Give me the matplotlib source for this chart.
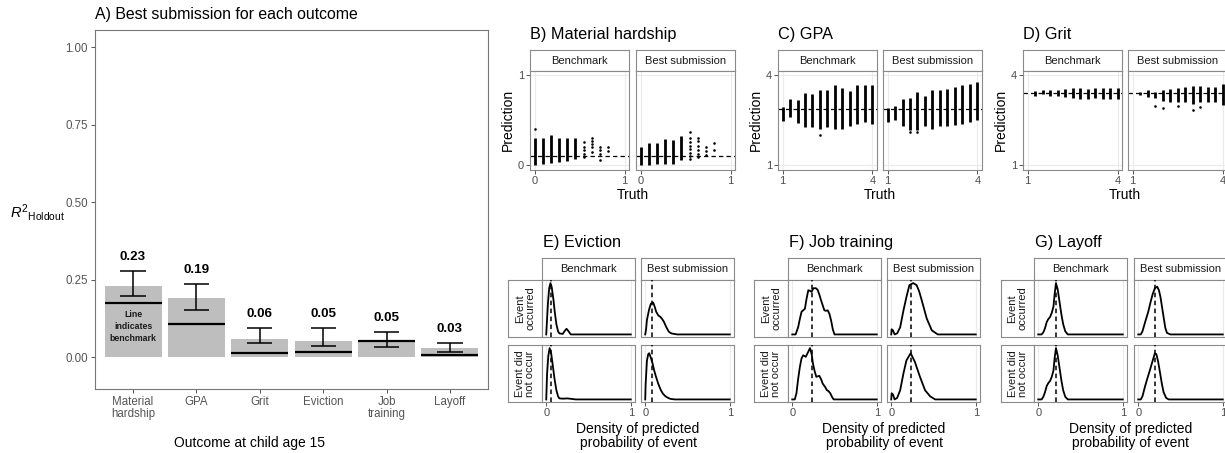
import matplotlib
matplotlib.use('Agg')
import matplotlib.pyplot as plt

plt.rcParams['font.family'] = ['Liberation Sans', 'DejaVu Sans']
plt.rcParams['mathtext.fontset'] = 'custom'
plt.rcParams['mathtext.rm'] = 'Liberation Sans'
plt.rcParams['mathtext.it'] = 'Liberation Sans:italic'

# ---------------- data: panel A ----------------
outcomes = ['Material\nhardship', 'GPA', 'Grit', 'Eviction', 'Job\ntraining', 'Layoff']
best_r2 = [0.23, 0.19, 0.057, 0.052, 0.052, 0.028]
ci_low = [0.197, 0.153, 0.046, 0.035, 0.033, 0.017]
ci_high = [0.277, 0.235, 0.095, 0.095, 0.082, 0.046]
benchmark_r2 = [0.176, 0.106, 0.014, 0.017, 0.052, 0.006]

# ---------------- data: B) Material hardship ----------------
mh_bench_truth = [0.0, 0.09, 0.18, 0.27, 0.36, 0.45]
mh_bench_lo = [0.0, 0.02, 0.03, 0.04, 0.05, 0.07]
mh_bench_hi = [0.31, 0.30, 0.34, 0.31, 0.30, 0.31]
mh_bench_pts_x = [0.0, 0.55, 0.55, 0.55, 0.55, 0.55, 0.64, 0.64, 0.64, 0.64, 0.64,
                  0.73, 0.73, 0.73, 0.73, 0.82, 0.82]
mh_bench_pts_y = [0.40, 0.09, 0.13, 0.17, 0.21, 0.26, 0.15, 0.20, 0.24, 0.27, 0.30,
                  0.06, 0.13, 0.17, 0.21, 0.16, 0.20]
mh_bench_mean = 0.104
mh_best_truth = [0.0, 0.09, 0.18, 0.27, 0.36, 0.45]
mh_best_lo = [0.0, 0.0, 0.02, 0.02, 0.02, 0.06]
mh_best_hi = [0.20, 0.25, 0.25, 0.29, 0.28, 0.33]
mh_best_pts_x = [0.55, 0.55, 0.55, 0.55, 0.55, 0.55, 0.55, 0.55, 0.64, 0.64, 0.64,
                 0.64, 0.64, 0.64, 0.73, 0.73, 0.73, 0.82, 0.82]
mh_best_pts_y = [0.07, 0.10, 0.14, 0.18, 0.22, 0.26, 0.30, 0.37, 0.09, 0.13, 0.17,
                 0.22, 0.27, 0.31, 0.12, 0.16, 0.20, 0.17, 0.25]
mh_best_mean = 0.11

# ---------------- data: C) GPA ----------------
gpa_truth = [1.0, 1.25, 1.5, 1.75, 2.0, 2.25, 2.5, 2.75, 3.0, 3.25, 3.5, 3.75, 4.0]
gpa_bench_lo = [2.48, 2.61, 2.41, 2.28, 2.28, 2.22, 2.28, 2.22, 2.22, 2.33, 2.39, 2.44, 2.39]
gpa_bench_hi = [2.94, 3.22, 3.17, 3.42, 3.39, 3.52, 3.50, 3.67, 3.59, 3.48, 3.67, 3.67, 3.67]
gpa_bench_pts_x = [2.25]
gpa_bench_pts_y = [2.0]
gpa_bench_mean = 2.89
gpa_best_lo = [2.44, 2.50, 2.30, 2.17, 2.17, 2.30, 2.22, 2.30, 2.33, 2.35, 2.39, 2.44, 2.50]
gpa_best_hi = [2.90, 2.97, 3.20, 3.25, 3.44, 3.30, 3.52, 3.50, 3.55, 3.63, 3.67, 3.72, 3.78]
gpa_best_pts_x = [1.75, 2.0]
gpa_best_pts_y = [2.12, 2.12]
gpa_best_mean = 2.89

# ---------------- data: D) Grit ----------------
grit_truth = [1.25, 1.5, 1.75, 2.0, 2.25, 2.5, 2.75, 3.0, 3.25, 3.5, 3.75, 4.0]
grit_bench_lo = [3.33, 3.37, 3.30, 3.30, 3.27, 3.25, 3.22, 3.20, 3.25, 3.20, 3.22, 3.20]
grit_bench_hi = [3.48, 3.50, 3.52, 3.50, 3.56, 3.57, 3.58, 3.56, 3.58, 3.58, 3.58, 3.58]
grit_bench_mean = 3.41
grit_best_lo = [3.35, 3.28, 3.25, 3.15, 3.13, 3.10, 3.10, 3.05, 3.10, 3.10, 3.12, 3.00]
grit_best_hi = [3.45, 3.50, 3.45, 3.50, 3.56, 3.58, 3.62, 3.65, 3.65, 3.62, 3.60, 3.72]
grit_best_pts_x = [1.75, 2.0, 2.5, 3.0, 3.25]
grit_best_pts_y = [2.97, 2.93, 2.97, 2.86, 2.95]
grit_best_mean = 3.42

# ---------------- data: E) Eviction (scaled density) ----------------
ev_bench_occ_x = [0, 0.01, 0.02, 0.035, 0.05, 0.065, 0.086, 0.10, 0.12, 0.14, 0.155, 0.195, 0.22, 0.24, 0.26, 0.29, 0.35, 1.0]
ev_bench_occ_y = [0, 0.30, 0.60, 0.90, 1.00, 0.92, 0.67, 0.45, 0.20, 0.06, 0.02, 0.01, 0.07, 0.11, 0.07, 0.0, 0.0, 0.0]
ev_bench_not_x = [0, 0.01, 0.025, 0.04, 0.06, 0.08, 0.10, 0.12, 0.14, 0.155, 0.20, 0.25, 0.30, 0.35, 1.0]
ev_bench_not_y = [0, 0.50, 0.85, 1.00, 0.88, 0.63, 0.38, 0.18, 0.06, 0.02, 0.015, 0.02, 0.01, 0.0, 0.0]
ev_best_occ_x = [0, 0.01, 0.02, 0.045, 0.067, 0.094, 0.11, 0.13, 0.155, 0.18, 0.20, 0.22, 0.25, 0.28, 0.31, 0.34, 0.38, 1.0]
ev_best_occ_y = [0, 0.10, 0.28, 0.48, 0.60, 0.62, 0.55, 0.44, 0.37, 0.34, 0.30, 0.25, 0.14, 0.05, 0.02, 0.01, 0.0, 0.0]
ev_best_not_x = [0, 0.005, 0.02, 0.035, 0.047, 0.065, 0.087, 0.105, 0.126, 0.155, 0.185, 0.21, 0.24, 0.27, 0.30, 0.35, 1.0]
ev_best_not_y = [0, 0.30, 0.75, 0.88, 0.90, 0.82, 0.70, 0.57, 0.45, 0.30, 0.18, 0.11, 0.06, 0.03, 0.01, 0.0, 0.0]
ev_mean = [0.06, 0.075]

# ---------------- data: F) Job training ----------------
jt_bench_occ_x = [0, 0.04, 0.07, 0.09, 0.11, 0.15, 0.17, 0.19, 0.21, 0.23, 0.25, 0.28, 0.30, 0.32, 0.34, 0.38, 0.40, 0.42, 0.44, 0.46, 0.48, 0.50, 1.0]
jt_bench_occ_y = [0, 0.0, 0.14, 0.30, 0.44, 0.50, 0.70, 0.86, 0.85, 0.83, 0.90, 0.90, 0.87, 0.78, 0.67, 0.47, 0.46, 0.47, 0.40, 0.27, 0.10, 0.0, 0.0]
jt_bench_not_x = [0, 0.03, 0.05, 0.07, 0.09, 0.11, 0.13, 0.16, 0.19, 0.21, 0.23, 0.245, 0.265, 0.285, 0.32, 0.34, 0.36, 0.39, 0.41, 0.43, 0.45, 0.47, 0.49, 1.0]
jt_bench_not_y = [0, 0.0, 0.12, 0.40, 0.63, 0.80, 0.86, 0.83, 0.93, 1.00, 0.88, 0.70, 0.55, 0.44, 0.46, 0.40, 0.31, 0.24, 0.18, 0.16, 0.12, 0.05, 0.0, 0.0]
jt_best_occ_x = [0, 0.005, 0.02, 0.04, 0.07, 0.106, 0.145, 0.18, 0.215, 0.26, 0.30, 0.33, 0.36, 0.42, 0.48, 0.55, 1.0]
jt_best_occ_y = [0, 0.10, 0.08, 0.0, 0.02, 0.14, 0.47, 0.73, 0.96, 1.00, 0.96, 0.84, 0.67, 0.31, 0.08, 0.0, 0.0]
jt_best_not_x = [0, 0.005, 0.02, 0.04, 0.07, 0.106, 0.145, 0.18, 0.23, 0.28, 0.34, 0.40, 0.46, 0.52, 1.0]
jt_best_not_y = [0, 0.12, 0.10, 0.0, 0.03, 0.18, 0.51, 0.76, 0.90, 0.73, 0.44, 0.18, 0.06, 0.0, 0.0]
jt_mean = [0.235, 0.235]

# ---------------- data: G) Layoff ----------------
lo_bench_occ_x = [0, 0.04, 0.06, 0.08, 0.10, 0.12, 0.14, 0.16, 0.18, 0.195, 0.21, 0.23, 0.255, 0.275, 0.295, 0.32, 0.35, 1.0]
lo_bench_occ_y = [0, 0.0, 0.04, 0.12, 0.24, 0.30, 0.34, 0.42, 0.54, 0.80, 1.00, 0.88, 0.60, 0.38, 0.20, 0.06, 0.0, 0.0]
lo_bench_not_x = [0, 0.04, 0.06, 0.08, 0.10, 0.12, 0.14, 0.16, 0.18, 0.195, 0.21, 0.23, 0.255, 0.275, 0.295, 0.32, 0.35, 1.0]
lo_bench_not_y = [0, 0.0, 0.05, 0.14, 0.26, 0.32, 0.36, 0.44, 0.56, 0.82, 1.00, 0.86, 0.58, 0.36, 0.18, 0.05, 0.0, 0.0]
lo_best_occ_x = [0, 0.03, 0.05, 0.087, 0.12, 0.146, 0.17, 0.197, 0.224, 0.245, 0.263, 0.28, 0.30, 0.32, 0.34, 0.38, 1.0]
lo_best_occ_y = [0, 0.0, 0.06, 0.27, 0.45, 0.63, 0.78, 0.90, 0.93, 0.86, 0.73, 0.55, 0.34, 0.13, 0.03, 0.0, 0.0]
lo_best_not_x = [0, 0.03, 0.05, 0.08, 0.11, 0.14, 0.17, 0.197, 0.215, 0.235, 0.26, 0.28, 0.30, 0.33, 0.36, 1.0]
lo_best_not_y = [0, 0.0, 0.06, 0.25, 0.42, 0.58, 0.75, 0.90, 0.88, 0.74, 0.50, 0.30, 0.14, 0.03, 0.0, 0.0]
lo_mean = [0.21, 0.20]

# ---------------- figure ----------------
W, H = 1225, 453
fig = plt.figure(figsize=(W / 100, H / 100), dpi=100)
BORDER = '#8a8a8a'
TICKC = '#4d4d4d'
GRID = '#ebebeb'


def ax_px(x0, y0, x1, y1):
    return fig.add_axes([x0 / W, 1 - y1 / H, (x1 - x0) / W, (y1 - y0) / H])


def ftext(x, y, s, **kw):
    fig.text(x / W, 1 - y / H, s, **kw)


def strip(x0, y0, x1, y1, text, rot=0):
    a = ax_px(x0, y0, x1, y1)
    a.set_xticks([]); a.set_yticks([])
    a.set_facecolor('white')
    for s in a.spines.values():
        s.set_color(BORDER); s.set_linewidth(0.8)
    a.text(0.5, 0.5, text, ha='center', va='center', rotation=rot, fontsize=8,
           color='#1a1a1a', transform=a.transAxes, linespacing=1.0)


def panel(x0, y0, x1, y1, xlim, ylim, xticks, xlabels, yticks=(), ylabels=None, show_y=False):
    a = ax_px(x0, y0, x1, y1)
    a.set_xlim(xlim); a.set_ylim(ylim)
    for t in xticks:
        a.axvline(t, color=GRID, lw=0.8, zorder=0)
    for t in yticks:
        a.axhline(t, color=GRID, lw=0.8, zorder=0)
    a.set_xticks(xticks); a.set_xticklabels(xlabels)
    if show_y:
        a.set_yticks(yticks); a.set_yticklabels(ylabels)
    else:
        a.set_yticks([])
    a.tick_params(length=2.8, width=0.7, color='#555555', labelsize=8,
                  labelcolor=TICKC, pad=1.5)
    for s in a.spines.values():
        s.set_color(BORDER); s.set_linewidth(0.8)
    return a


# ---------------- Panel A ----------------
axA = ax_px(95, 30, 488, 389)
pos = list(range(1, len(outcomes) + 1))
axA.bar(pos, best_r2, width=0.9, color='#bebebe', zorder=1)
axA.vlines(pos, ci_low, ci_high, color='black', lw=1.1, zorder=3)
axA.hlines(ci_low, [p - 0.2 for p in pos], [p + 0.2 for p in pos], color='black', lw=1.1, zorder=3)
axA.hlines(ci_high, [p - 0.2 for p in pos], [p + 0.2 for p in pos], color='black', lw=1.1, zorder=3)
axA.hlines(benchmark_r2, [p - 0.45 for p in pos], [p + 0.45 for p in pos], color='black', lw=1.6, zorder=4)
for p, v, hi in zip(pos, best_r2, ci_high):
    axA.text(p, hi + 0.045, f'{v:.2f}', ha='center', va='center', fontsize=9.6,
             fontweight='bold', color='black')
axA.text(1, 0.098, 'Line\nindicates\nbenchmark', ha='center', va='center', fontsize=6.3,
         fontweight='bold', color='#1a1a1a', linespacing=1.45, zorder=5)
axA.set_xlim(0.4, 6.6)
axA.set_ylim(-0.103, 1.055)
axA.set_yticks([0, 0.25, 0.5, 0.75, 1.0])
axA.set_yticklabels(['0.00', '0.25', '0.50', '0.75', '1.00'])
axA.set_xticks(pos)
axA.set_xticklabels(outcomes, linespacing=1.0)
axA.tick_params(length=3, width=0.7, color='#555555', labelsize=8.3, labelcolor='#555555', pad=2)
for s in axA.spines.values():
    s.set_color('#777777'); s.set_linewidth(0.8)
ftext(95, 15, 'A) Best submission for each outcome', fontsize=11.4, ha='left', va='center')
ftext(250, 443, 'Outcome at child age 15', fontsize=10, ha='center', va='center')
ftext(37, 213, r'$\mathit{R}^{2}{}_{\mathrm{Holdout}}$', fontsize=10.5, ha='center', va='center')


# ---------------- Scatter panels B-D ----------------
def scatter_facet(a, truth, lo, hi, px, py, mean):
    a.vlines(truth, lo, hi, color='black', lw=2.0, zorder=3)
    if px:
        a.scatter(px, py, s=3.5, color='black', zorder=3, linewidths=0)
    a.axhline(mean, color='black', lw=0.9, dashes=(3.5, 2.5), zorder=2)


scatter_specs = [
    dict(title='B) Material hardship', x=(530, 629, 636, 735), lim=(-0.05, 1.05), ticks=[0, 1],
         bench=(mh_bench_truth, mh_bench_lo, mh_bench_hi, mh_bench_pts_x, mh_bench_pts_y, mh_bench_mean),
         best=(mh_best_truth, mh_best_lo, mh_best_hi, mh_best_pts_x, mh_best_pts_y, mh_best_mean)),
    dict(title='C) GPA', x=(778, 877, 883, 982), lim=(0.85, 4.15), ticks=[1, 4],
         bench=(gpa_truth, gpa_bench_lo, gpa_bench_hi, gpa_bench_pts_x, gpa_bench_pts_y, gpa_bench_mean),
         best=(gpa_truth, gpa_best_lo, gpa_best_hi, gpa_best_pts_x, gpa_best_pts_y, gpa_best_mean)),
    dict(title='D) Grit', x=(1023, 1122, 1128, 1227), lim=(0.85, 4.15), ticks=[1, 4],
         bench=(grit_truth, grit_bench_lo, grit_bench_hi, [], [], grit_bench_mean),
         best=(grit_truth, grit_best_lo, grit_best_hi, grit_best_pts_x, grit_best_pts_y, grit_best_mean)),
]
SY0, SY1, PY1 = 50, 71, 170
for sp in scatter_specs:
    bx0, bx1, cx0, cx1 = sp['x']
    tl = [str(t) for t in sp['ticks']]
    ftext(bx0, 35, sp['title'], fontsize=11.7, ha='left', va='center')
    strip(bx0, SY0, bx1, SY1, 'Benchmark')
    strip(cx0, SY0, cx1, SY1, 'Best submission')
    a1 = panel(bx0, SY1, bx1, PY1, sp['lim'], sp['lim'], sp['ticks'], tl, sp['ticks'], tl, show_y=True)
    a2 = panel(cx0, SY1, cx1, PY1, sp['lim'], sp['lim'], sp['ticks'], tl, sp['ticks'])
    scatter_facet(a1, *sp['bench'])
    scatter_facet(a2, *sp['best'])
    ftext(bx0 - 22, 120, 'Prediction', fontsize=10, rotation=90, ha='center', va='center')
    ftext((bx0 + cx1) / 2, 195, 'Truth', fontsize=10, ha='center', va='center')


# ---------------- Density panels E-G ----------------
def density_facet(a, x, y, mean):
    a.plot(x, y, color='black', lw=1.3, zorder=3, solid_joinstyle='round')
    a.axvline(mean, color='black', lw=1.1, dashes=(3, 2.2), zorder=4)


dens_specs = [
    dict(title='E) Eviction', x=(508, 542, 635, 641, 734),
         curves=[[(ev_bench_occ_x, ev_bench_occ_y), (ev_best_occ_x, ev_best_occ_y)],
                 [(ev_bench_not_x, ev_bench_not_y), (ev_best_not_x, ev_best_not_y)]], mean=ev_mean),
    dict(title='F) Job training', x=(754, 788, 881, 887, 980),
         curves=[[(jt_bench_occ_x, jt_bench_occ_y), (jt_best_occ_x, jt_best_occ_y)],
                 [(jt_bench_not_x, jt_bench_not_y), (jt_best_not_x, jt_best_not_y)]], mean=jt_mean),
    dict(title='G) Layoff', x=(1001, 1034, 1127, 1134, 1227),
         curves=[[(lo_bench_occ_x, lo_bench_occ_y), (lo_best_occ_x, lo_best_occ_y)],
                 [(lo_bench_not_x, lo_bench_not_y), (lo_best_not_x, lo_best_not_y)]], mean=lo_mean),
]
row_labels = ['Event\noccurred', 'Event did\nnot occur']
DS0, DS1 = 258, 280
rows = [(280, 337), (345, 402)]
for sp in dens_specs:
    rx0, bx0, bx1, cx0, cx1 = sp['x']
    ftext(bx0 + 1, 243, sp['title'], fontsize=11.7, ha='left', va='center')
    strip(bx0, DS0, bx1, DS1, 'Benchmark')
    strip(cx0, DS0, cx1, DS1, 'Best submission')
    for r, (ry0, ry1) in enumerate(rows):
        strip(rx0, ry0, bx0, ry1, row_labels[r], rot=90)
        last = (r == len(rows) - 1)
        for c, (px0, px1) in enumerate([(bx0, bx1), (cx0, cx1)]):
            a = panel(px0, ry0, px1, ry1, (-0.05, 1.05), (-0.05, 1.06),
                      [0, 1], ['0', '1'] if last else ['', ''])
            if not last:
                a.tick_params(axis='x', length=0)
            cx, cy = sp['curves'][r][c]
            density_facet(a, cx, cy, sp['mean'][c])
    ftext((bx0 + cx1) / 2, 429, 'Density of predicted', fontsize=10, ha='center', va='center')
    ftext((bx0 + cx1) / 2, 443, 'probability of event', fontsize=10, ha='center', va='center')

fig.savefig('out.png', dpi=100, facecolor='white')
